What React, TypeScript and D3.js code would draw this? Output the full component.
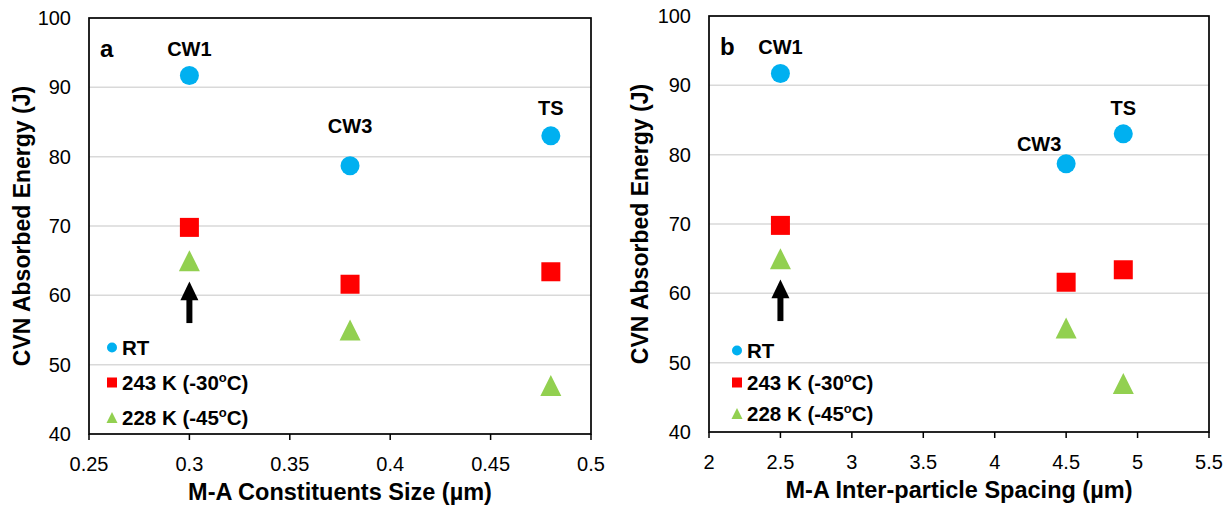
import React from "react";
import * as d3 from "d3";

const seriesNames = ["RT", "243 K (-30", "228 K (-45"];
const seriesHasDegree = [false, true, true];
const sampleNames = ["CW1", "CW3", "TS"];
const sizeValues = [0.3, 0.38, 0.48];
const spacingValues = [2.5, 4.5, 4.9];
const rtValues = [91.7, 78.7, 83.0];
const k243Values = [69.8, 61.6, 63.4];
const k228Values = [65.0, 55.0, 47.0];
const sizeTicks = [0.25, 0.3, 0.35, 0.4, 0.45, 0.5];
const spacingTicks = [2, 2.5, 3, 3.5, 4, 4.5, 5, 5.5];
const yTicks = [40, 50, 60, 70, 80, 90, 100];

const colors = ["#00B0F0", "#FF0000", "#92D050"];
const FONT = "Liberation Sans, Arial, sans-serif";

function Marker({ kind, x, y, s }: { kind: number; x: number; y: number; s: number }) {
  if (kind === 0) return <circle cx={x} cy={y} r={s / 2} fill={colors[0]} />;
  if (kind === 1) return <rect x={x - s / 2} y={y - s / 2} width={s} height={s} fill={colors[1]} />;
  const h = s;
  return (
    <path
      d={`M${x},${y - h / 2} L${x + s / 2},${y + h / 2} L${x - s / 2},${y + h / 2} Z`}
      fill={colors[2]}
    />
  );
}

type PanelProps = {
  x0: number;
  x1: number;
  y0: number;
  y1: number;
  domain: [number, number];
  ticks: number[];
  xs: number[];
  letter: string;
  xTitle: string;
  yTitleX: number;
  labelPos: { dx: number; dy: number }[];
  legendX: number;
  legendY: number[];
};

function Panel(p: PanelProps) {
  const x = d3.scaleLinear().domain(p.domain).range([p.x0, p.x1]);
  const y = d3.scaleLinear().domain([40, 100]).range([p.y1, p.y0]);
  const series = [rtValues, k243Values, k228Values];
  const arrowX = x(p.xs[0]);
  return (
    <g fontFamily={FONT}>
      {yTicks.map((t) =>
        t > 40 && t < 100 ? (
          <line key={t} x1={p.x0} x2={p.x1} y1={y(t)} y2={y(t)} stroke="#D9D9D9" strokeWidth={1.5} />
        ) : null
      )}
      <rect x={p.x0} y={p.y0} width={p.x1 - p.x0} height={p.y1 - p.y0} fill="none" stroke="#000" strokeWidth={1.7} />
      {p.ticks.map((t) => (
        <g key={t}>
          <line x1={x(t)} x2={x(t)} y1={p.y1} y2={p.y1 + 6} stroke="#000" strokeWidth={1.5} />
          <text x={x(t)} y={p.y1 + 37} textAnchor="middle" fontSize={20} fill="#000">
            {String(t)}
          </text>
        </g>
      ))}
      {yTicks.map((t) => (
        <text key={t} x={p.x0 - 18} y={y(t) + 7} textAnchor="end" fontSize={20} fill="#000">
          {t}
        </text>
      ))}
      <text
        transform={`translate(${p.yTitleX},${(p.y0 + p.y1) / 2}) rotate(-90)`}
        textAnchor="middle"
        fontSize={23}
        fontWeight="bold"
      >
        CVN Absorbed Energy (J)
      </text>
      <text x={(p.x0 + p.x1) / 2} y={p.y1 + 66} textAnchor="middle" fontSize={23.5} fontWeight="bold">
        {p.xTitle}
      </text>
      <text x={p.x0 + 11} y={p.y0 + 39} fontSize={24} fontWeight="bold">
        {p.letter}
      </text>
      {series.map((vals, si) =>
        vals.map((v, i) => (
          <Marker key={`${si}-${i}`} kind={si} x={x(p.xs[i])} y={y(v)} s={si === 2 ? 21 : 19} />
        ))
      )}
      {sampleNames.map((n, i) => (
        <text
          key={n}
          x={x(p.xs[i]) + p.labelPos[i].dx}
          y={y(rtValues[i]) + p.labelPos[i].dy}
          textAnchor="middle"
          fontSize={20}
          fontWeight="bold"
        >
          {n}
        </text>
      ))}
      <line x1={arrowX} x2={arrowX} y1={y(56.0)} y2={y(59.5)} stroke="#000" strokeWidth={6} />
      <path
        d={`M${arrowX},${y(62.0)} L${arrowX + 9},${y(59.3)} L${arrowX - 9},${y(59.3)} Z`}
        fill="#000"
      />
      {seriesNames.map((n, i) => (
        <g key={n}>
          <Marker kind={i} x={p.legendX} y={p.legendY[i] - 7.5} s={i === 0 ? 10 : i === 1 ? 10 : 11} />
          <text x={p.legendX + 10} y={p.legendY[i]} fontSize={20.5} fontWeight="bold">
            {n}
            {seriesHasDegree[i] ? (
              <>
                <tspan dy={-8} fontSize={13}>
                  o
                </tspan>
                <tspan dy={8}>C)</tspan>
              </>
            ) : null}
          </text>
        </g>
      ))}
    </g>
  );
}

export default function App() {
  return (
    <svg
      width={1227}
      height={508}
      style={{ display: "block", position: "absolute", left: 0, top: 0, overflow: "visible" }}
    >
      <Panel
        x0={89}
        x1={591}
        y0={18}
        y1={434}
        domain={[0.25, 0.5]}
        ticks={sizeTicks}
        xs={sizeValues}
        letter="a"
        xTitle="M-A Constituents Size (µm)"
        yTitleX={30}
        labelPos={[
          { dx: 0, dy: -19.5 },
          { dx: 0, dy: -33 },
          { dx: 0, dy: -21 },
        ]}
        legendX={112}
        legendY={[355, 390, 425]}
      />
      <Panel
        x0={709}
        x1={1209}
        y0={16}
        y1={432}
        domain={[2, 5.5]}
        ticks={spacingTicks}
        xs={spacingValues}
        letter="b"
        xTitle="M-A Inter-particle Spacing (µm)"
        yTitleX={648}
        labelPos={[
          { dx: 0, dy: -19.5 },
          { dx: -27, dy: -13 },
          { dx: 0, dy: -19 },
        ]}
        legendX={737}
        legendY={[358, 390, 421]}
      />
    </svg>
  );
}
